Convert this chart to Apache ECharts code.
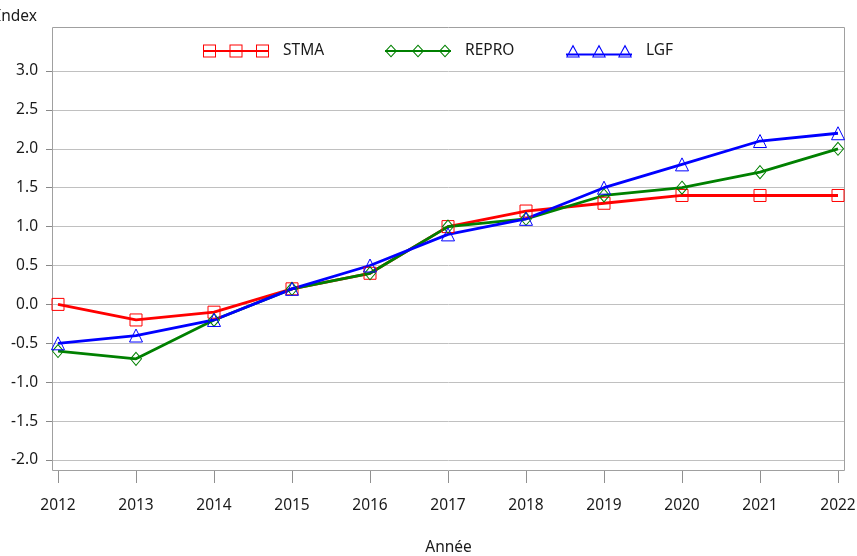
<!DOCTYPE html>
<html>
<head>
<meta charset="utf-8">
<script src="https://cdn.jsdelivr.net/npm/echarts@6/dist/echarts.min.js"></script>
<style>html,body{margin:0;padding:0;background:#fff;}#c{width:857px;height:556px;}</style>
</head>
<body>
<div id="c"></div>
<script>
const years = [2012, 2013, 2014, 2015, 2016, 2017, 2018, 2019, 2020, 2021, 2022];
const stma  = [0.0, -0.2, -0.1, 0.2, 0.4, 1.0, 1.2, 1.3, 1.4, 1.4, 1.4];
const repro = [-0.6, -0.7, -0.2, 0.2, 0.4, 1.0, 1.1, 1.4, 1.5, 1.7, 2.0];
const lgf   = [-0.5, -0.4, -0.2, 0.2, 0.5, 0.9, 1.1, 1.5, 1.8, 2.1, 2.2];
const yTicks = [-2.0, -1.5, -1.0, -0.5, 0.0, 0.5, 1.0, 1.5, 2.0, 2.5, 3.0];

const FONT = '"Noto Sans", sans-serif';
const TXT = '#1a1a1a';
const FS = 15.5;

function pairs(vals) { return years.map((y, i) => [y, vals[i]]); }

// legend icons: line through three hollow markers (outer/inner with opposite winding)
function sq(x) { return `M${x} 0H${x+13}V13H${x}Z M${x+1} 1V12H${x+12}V1Z`; }
function dm(c) { return `M${c-6} 6.5L${c} 0L${c+6} 6.5L${c} 13Z M${c-4.6} 6.5L${c} 11.6L${c+4.6} 6.5L${c} 1.4Z`; }
function tr(c) { return `M${c} 0L${c+7} 13L${c-7} 13Z M${c} 2.6L${c-5.4} 12L${c+5.4} 12Z`; }
const iconSTMA = 'path://M0 5.5H66V7.5H0Z ' + sq(0) + ' ' + sq(26.5) + ' ' + sq(53);
const iconREPRO = 'path://M0 5.5H66V7.5H0Z ' + dm(6) + ' ' + dm(33) + ' ' + dm(60);
const iconLGF = 'path://M0 9H66V11H0Z ' + tr(7) + ' ' + tr(33) + ' ' + tr(59);

function legend(name, icon, color, left) {
  return {
    left: left, top: 43, orient: 'horizontal', selectedMode: false,
    itemWidth: 66, itemHeight: 13, padding: 0,
    textStyle: { fontFamily: FONT, fontSize: FS, color: TXT, padding: [0, 0, 0, 9] },
    data: [{ name: name, icon: icon, itemStyle: { color: color, borderWidth: 0, opacity: 1 } }]
  };
}

function series(name, vals, color, symbol, size) {
  return {
    name: name, type: 'line', data: pairs(vals),
    symbol: symbol, symbolSize: size,
    lineStyle: { color: color, width: 2.8 },
    itemStyle: { color: 'none', borderColor: color, borderWidth: 1 },
    emphasis: { disabled: true },
    animation: false
  };
}

const chart = echarts.init(document.getElementById('c'));
chart.setOption({
  animation: false,
  grid: { left: 52, right: 12, top: 71, bottom: 96, containLabel: false, outerBoundsMode: 'none' },
  legend: [
    legend('STMA', iconSTMA, '#ff0000', 203),
    legend('REPRO', iconREPRO, '#008000', 385),
    legend('LGF', iconLGF, '#0000ff', 566)
  ],
  xAxis: {
    type: 'value', min: 2012 - 6 / 78, max: 2022 + 7 / 78,
    offset: 11, position: 'bottom',
    name: 'Année', nameLocation: 'middle', nameGap: 69,
    nameTextStyle: { fontFamily: FONT, fontSize: FS, color: TXT },
    axisLine: { show: false, onZero: false },
    axisTick: { show: true, length: 12, lineStyle: { color: '#909090' }, customValues: years },
    axisLabel: { fontFamily: FONT, fontSize: FS, color: TXT, margin: 27, customValues: years, formatter: v => String(v) },
    splitLine: { show: false }
  },
  yAxis: {
    type: 'value', min: -2, max: 3, interval: 0.5,
    position: 'left',
    axisLine: { show: true, onZero: false, lineStyle: { color: '#a0a0a0', width: 1 } },
    axisTick: { show: true, length: 6, lineStyle: { color: '#888888', width: 1 } },
    axisLabel: { fontFamily: FONT, fontSize: FS, color: TXT, margin: 14, formatter: v => v.toFixed(1) },
    splitLine: { show: true, lineStyle: { color: '#c0c0c0', width: 1 } }
  },
  graphic: [
    { type: 'rect', silent: true, z: 1, shape: { x: 52.5, y: 27.5, width: 792, height: 443 },
      style: { fill: 'none', stroke: '#a0a0a0', lineWidth: 1 } },
    { type: 'text', silent: true, style: { text: 'Index', x: -4, y: 17, verticalAlign: 'middle',
      font: FS + 'px ' + FONT, fill: TXT } }
  ],
  series: [
    series('STMA', stma, '#ff0000', 'rect', 12),
    series('REPRO', repro, '#008000', 'diamond', [11, 13]),
    series('LGF', lgf, '#0000ff', 'triangle', 13)
  ]
});
</script>
</body>
</html>
